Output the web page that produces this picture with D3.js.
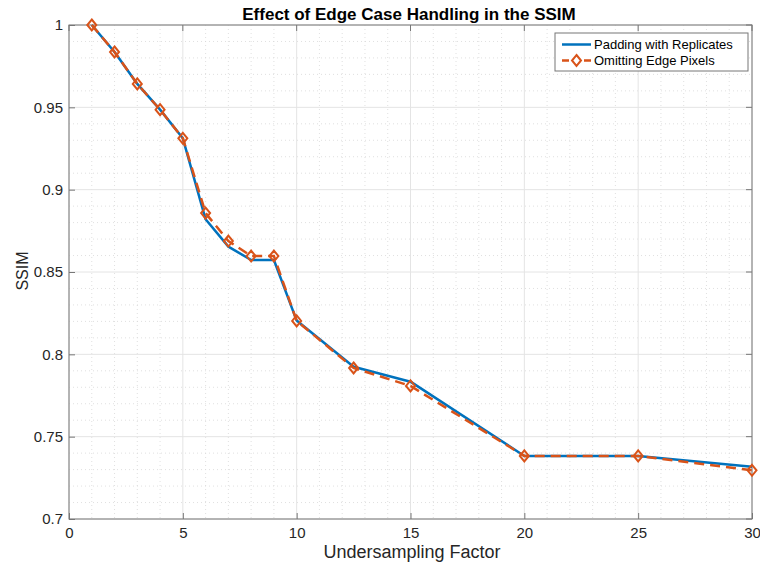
<!DOCTYPE html>
<html>
<head>
<meta charset="utf-8">
<script src="https://cdn.jsdelivr.net/npm/d3@7"></script>
<style>
  html, body { margin: 0; padding: 0; background: #fff; }
  svg { display: block; font-family: "Liberation Sans", Arial, Helvetica, sans-serif; }
</style>
</head>
<body>
<svg id="chart" width="760" height="565"></svg>
<script>
// Undersampling factors and SSIM values for the two edge-handling strategies
const factors = [1, 2, 3, 4, 5, 6, 7, 8, 9, 10, 12.5, 15, 20, 25, 30];
const paddingSSIM = [1.0, 0.9836, 0.9642, 0.9486, 0.9312, 0.8820, 0.8654, 0.8573, 0.8573, 0.8205, 0.7925, 0.7834, 0.7383, 0.7383, 0.7318];
const omittingSSIM = [1.0, 0.9836, 0.9642, 0.9486, 0.9312, 0.8858, 0.8688, 0.8597, 0.8597, 0.8203, 0.7917, 0.7808, 0.7383, 0.7383, 0.7296];
const xTicks = [0, 5, 10, 15, 20, 25, 30];
const yTicks = [0.7, 0.75, 0.8, 0.85, 0.9, 0.95, 1];
const seriesNames = ["Padding with Replicates", "Omitting Edge Pixels"];

const svg = d3.select("#chart");
const plotL = 69, plotR = 752, plotT = 25, plotB = 519;

const x = d3.scaleLinear().domain([0, 30]).range([plotL, plotR]);
const y = d3.scaleLinear().domain([0.7, 1]).range([plotB, plotT]);

const blue = "#0072BD", orange = "#D95319";

// Minor grid (dotted)
const g = svg.append("g");
g.selectAll(".xminor").data(d3.range(0, 31, 1).filter(v => v % 5 !== 0)).join("line")
  .attr("x1", d => x(d)).attr("x2", d => x(d)).attr("y1", plotT).attr("y2", plotB)
  .attr("stroke", "#d8d8d8").attr("stroke-width", 0.8).attr("stroke-dasharray", "1,3");
g.selectAll(".yminor").data(d3.range(70, 101, 1).filter(v => v % 5 !== 0).map(v => v / 100)).join("line")
  .attr("x1", plotL).attr("x2", plotR).attr("y1", d => y(d)).attr("y2", d => y(d))
  .attr("stroke", "#d8d8d8").attr("stroke-width", 0.8).attr("stroke-dasharray", "1,3");

// Major grid (solid)
g.selectAll(".xmajor").data(xTicks).join("line")
  .attr("x1", d => x(d)).attr("x2", d => x(d)).attr("y1", plotT).attr("y2", plotB)
  .attr("stroke", "#e4e4e4").attr("stroke-width", 1);
g.selectAll(".ymajor").data(yTicks).join("line")
  .attr("x1", plotL).attr("x2", plotR).attr("y1", d => y(d)).attr("y2", d => y(d))
  .attr("stroke", "#e4e4e4").attr("stroke-width", 1);

// Axes with inward ticks
const xAxis = d3.axisBottom(x).tickValues(xTicks).tickSizeInner(-6).tickSizeOuter(0).tickPadding(8).tickFormat(d3.format("d"));
const yAxis = d3.axisLeft(y).tickValues(yTicks).tickSizeInner(-6).tickSizeOuter(0).tickPadding(6).tickFormat(d => d === 1 ? "1" : d3.format("")(d));

const gx = svg.append("g").attr("transform", `translate(0,${plotB})`).call(xAxis);
const gy = svg.append("g").attr("transform", `translate(${plotL},0)`).call(yAxis);
[gx, gy].forEach(a => {
  a.select(".domain").remove();
  a.selectAll(".tick line").attr("stroke", "#777");
  a.selectAll(".tick text").attr("fill", "#262626").style("font-size", "15px");
});

// Top/right ticks (mirrored)
svg.append("g").selectAll("line").data(xTicks).join("line")
  .attr("x1", d => x(d)).attr("x2", d => x(d)).attr("y1", plotT).attr("y2", plotT + 6).attr("stroke", "#777");
svg.append("g").selectAll("line").data(yTicks).join("line")
  .attr("x1", plotR).attr("x2", plotR - 6).attr("y1", d => y(d)).attr("y2", d => y(d)).attr("stroke", "#777");

// Box
svg.append("rect").attr("x", plotL).attr("y", plotT).attr("width", plotR - plotL).attr("height", plotB - plotT)
  .attr("fill", "none").attr("stroke", "#777").attr("stroke-width", 1);

// Series
const line = d3.line().x(d => x(d[0])).y(d => y(d[1]));
const padData = factors.map((f, i) => [f, paddingSSIM[i]]);
const omitData = factors.map((f, i) => [f, omittingSSIM[i]]);

svg.append("path").datum(padData).attr("d", line)
  .attr("fill", "none").attr("stroke", blue).attr("stroke-width", 2.5).attr("stroke-linejoin", "round");
svg.append("path").datum(omitData).attr("d", line)
  .attr("fill", "none").attr("stroke", orange).attr("stroke-width", 2.5).attr("stroke-dasharray", "10,6");

const diamond = (cx, cy) => `M${cx},${cy - 5.5}L${cx + 4.5},${cy}L${cx},${cy + 5.5}L${cx - 4.5},${cy}Z`;
svg.append("g").selectAll("path").data(omitData).join("path")
  .attr("d", d => diamond(x(d[0]), y(d[1])))
  .attr("fill", "none").attr("stroke", orange).attr("stroke-width", 2);

// Title and axis labels
svg.append("text").attr("x", 409).attr("y", 20).attr("text-anchor", "middle")
  .style("font-size", "17px").style("font-weight", "bold").attr("fill", "#000")
  .text("Effect of Edge Case Handling in the SSIM");
svg.append("text").attr("x", 412).attr("y", 558).attr("text-anchor", "middle")
  .style("font-size", "18px").attr("fill", "#262626").text("Undersampling Factor");
svg.append("text").attr("transform", `translate(28,271) rotate(-90)`).attr("text-anchor", "middle")
  .style("font-size", "16px").attr("fill", "#262626").text("SSIM");

// Legend
const lg = svg.append("g");
lg.append("rect").attr("x", 555).attr("y", 33).attr("width", 193).attr("height", 38)
  .attr("fill", "#fff").attr("stroke", "#777").attr("stroke-width", 1);
const legendRows = [
  { name: seriesNames[0], color: blue, dash: null, marker: false, yy: 44.5 },
  { name: seriesNames[1], color: orange, dash: "7,4", marker: true, yy: 60.5 }
];
legendRows.forEach(r => {
  lg.append("line").attr("x1", 562).attr("x2", 591).attr("y1", r.yy).attr("y2", r.yy)
    .attr("stroke", r.color).attr("stroke-width", 2.5).attr("stroke-dasharray", r.dash);
  if (r.marker) {
    lg.append("path").attr("d", diamond(576.5, r.yy)).attr("fill", "#fff").attr("stroke", r.color).attr("stroke-width", 2);
  }
  lg.append("text").attr("x", 594).attr("y", r.yy + 4.5).style("font-size", "13px").attr("fill", "#000").text(r.name);
});
</script>
</body>
</html>
